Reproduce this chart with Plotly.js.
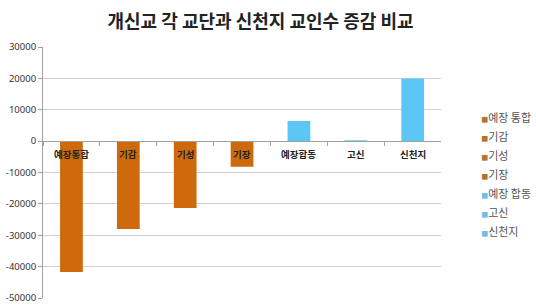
<!DOCTYPE html>
<html>
<head>
<meta charset="utf-8">
<script src="https://cdn.plot.ly/plotly-3.0.1.min.js"></script>
<style>
html,body{margin:0;padding:0;background:#fff;}
#chart{width:536px;height:305px;}
</style>
</head>
<body>
<div id="chart"></div>
<script>
var categories = ['예장 통합', '기감', '기성', '기장', '예장 합동', '고신', '신천지'];
var barLabels = ['예장통합', '기감', '기성', '기장', '예장합동', '고신', '신천지'];
var values = [-41700, -28000, -21300, -8200, 6400, 300, 20000];
var groupColor = ['o', 'o', 'o', 'o', 'b', 'b', 'b'];
var tickVals = [30000, 20000, 10000, 0, -10000, -20000, -30000, -40000, -50000];
var tickLabels = ['30000', '20000', '10000', '0', '-10000', '-20000', '-30000', '-40000', '-50000'];
var chartTitle = '개신교 각 교단과 신천지 교인수 증감 비교';

var barColors = {o: '#CE6A0C', b: '#5CC6F5'};
var legendColors = {o: '#B8702E', b: '#6EC0E8'};

var traces = [];
categories.forEach(function (c, i) {
  traces.push({
    type: 'bar', x: [c], y: [values[i]], width: 0.4,
    marker: {color: barColors[groupColor[i]]},
    showlegend: false, hoverinfo: 'none'
  });
});
categories.forEach(function (c, i) {
  traces.push({
    type: 'scatter', mode: 'markers', x: [null], y: [null],
    marker: {color: 'rgba(0,0,0,0)', size: 0.1, line: {width: 0}},
    name: '<span style="font-size:7px;color:' + legendColors[groupColor[i]] + '">■</span>' + c,
    showlegend: true, hoverinfo: 'none'
  });
});

var annotations = categories.map(function (c, i) {
  return {
    x: c, y: 0, xref: 'x', yref: 'y', text: barLabels[i], showarrow: false,
    yanchor: 'middle', yshift: -13,
    font: {family: 'Noto Sans CJK KR', size: 9.5, color: '#222', weight: 'bold'}
  };
});

var layout = {
  width: 536, height: 305,
  margin: {l: 43, r: 71, t: 47, b: 7},
  paper_bgcolor: '#fff', plot_bgcolor: '#fff',
  barmode: 'relative',
  title: {text: chartTitle, x: 0.486, xanchor: 'center', y: 0.928, yanchor: 'middle',
    font: {family: 'Noto Sans CJK KR', size: 18, color: '#222', weight: 'bold'}},
  xaxis: {type: 'category', range: [-0.5, 6.5], anchor: 'free', position: 0.625,
    showline: true, linecolor: '#a0a0a0', linewidth: 1,
    ticks: 'outside', tickson: 'boundaries', ticklen: 4, tickcolor: '#a0a0a0',
    showticklabels: false, showgrid: false, zeroline: false, fixedrange: true},
  yaxis: {range: [-50000, 30000], tickvals: tickVals, ticktext: tickLabels,
    showline: true, linecolor: '#a0a0a0', linewidth: 1,
    ticks: 'outside', ticklen: 4, tickcolor: '#a0a0a0',
    gridcolor: '#d2d2d2', zeroline: false,
    tickfont: {family: 'Noto Sans', size: 9.5, color: '#333'}, fixedrange: true},
  legend: {xref: 'container', yref: 'container', x: 0.823, y: 0.661, xanchor: 'left', yanchor: 'top',
    font: {family: 'Noto Sans CJK KR', size: 11, color: '#555'}, bgcolor: 'rgba(0,0,0,0)'},
  annotations: annotations,
  showlegend: true
};

Plotly.newPlot('chart', traces, layout, {displayModeBar: false, staticPlot: true});
</script>
</body>
</html>
